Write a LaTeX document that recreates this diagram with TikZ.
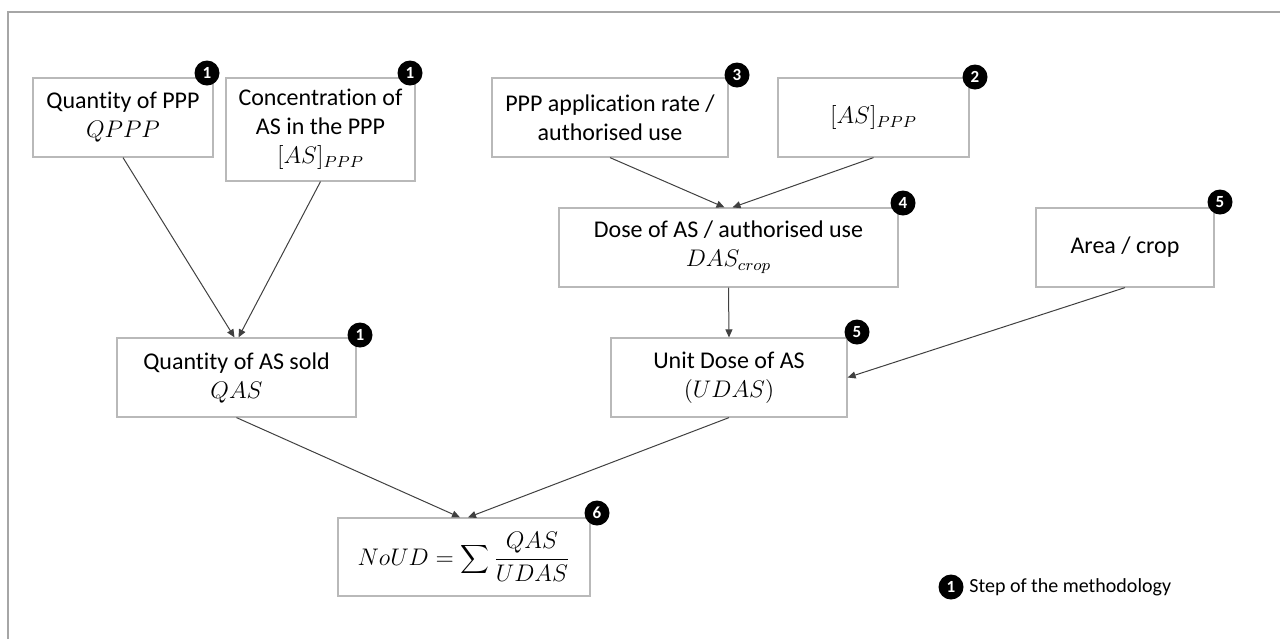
\documentclass[tikz,border=0pt]{standalone}
\usepackage{fontspec}
\setmainfont{Carlito}[RawFeature={-liga;-clig;-dlig;-calt}]
\usetikzlibrary{arrows.meta}
\newcommand{\tI}{t\kern0pt i}
\begin{document}
\begin{tikzpicture}[x=0.5pt,y=-0.5pt,
 box/.style={draw=gray!55, line width=0.6pt, fill=white, align=center, inner sep=0pt,
   font=\fontsize{12}{14.5}\selectfont},
 badge/.style={circle, fill=black, text=white, inner sep=0pt, minimum size=12.5pt,
   font=\fontsize{8.5}{9}\selectfont\bfseries},
 arr/.style={draw=black!75, line width=0.5pt, -{Triangle[length=4pt,width=3.5pt]}},
 legend/.style={font=\fontsize{10}{12}\selectfont, anchor=west, inner sep=0pt}
]
\useasboundingbox (0,0) rectangle (1280,639);
\draw[gray!70, line width=1pt] (8,639) -- (8,12) -- (1280,12);

\node[box, minimum width=90pt, minimum height=39.5pt] (A) at (123,117.5) {Quan\tI ty of PPP\\$QPPP$};
\node[box, minimum width=94.5pt, minimum height=51.5pt] (B) at (320.5,129.5) {Concentra\tI on of\\AS in the PPP\\$[AS]_{PPP}$};
\node[box, minimum width=118pt, minimum height=39.5pt] (C) at (610,117.5) {PPP application rate /\\authorised use};
\node[box, minimum width=95.5pt, minimum height=39.5pt] (D) at (873.5,117.5) {$[AS]_{PPP}$};
\node[box, minimum width=169.5pt, minimum height=39.5pt] (E) at (728.5,247.5) {Dose of AS / authorised use\\$DAS_{crop}$};
\node[box, minimum width=89pt, minimum height=39.5pt] (F) at (1125,247.5) {Area / crop};
\node[box, minimum width=119.5pt, minimum height=39.5pt] (G) at (236.5,377.5) {Quan\tI ty of AS sold\\$QAS$};
\node[box, minimum width=118pt, minimum height=39.5pt] (H) at (729,377.5) {Unit Dose of AS\\$(UDAS)$};
\node[box, minimum width=126pt, minimum height=39pt] (I) at (464,557) {$\displaystyle NoUD=\sum\frac{QAS}{UDAS}$};

\node[badge] (bA) at (207,73) {1};
\node[badge] (bB) at (410,73) {1};
\node[badge] (bC) at (737,75) {3};
\node[badge] (bD) at (975,77) {2};
\node[badge] (bE) at (903,203) {4};
\node[badge] (bF) at (1220,202) {5};
\node[badge] (bG) at (360,335) {1};
\node[badge] (bH) at (857,332) {5};
\node[badge] (bI) at (597,513) {6};

\draw[arr] (A.south) -- ([xshift=-1pt]G.north);
\draw[arr] (B.south) -- ([xshift=1pt]G.north);
\draw[arr] (C.south) -- ([xshift=-2pt]E.north);
\draw[arr] (D.south) -- ([xshift=2pt]E.north);
\draw[arr] (E.south) -- (H.north);
\draw[arr] (F.south) -- (H.east);
\draw[arr] (G.south) -- ([xshift=-2pt]I.north);
\draw[arr] (H.south) -- ([xshift=2pt]I.north);

\node[badge] (bL) at (951,587) {1};
\node[legend] (L) at (969,587) {Step of the methodology};
\end{tikzpicture}
\end{document}
